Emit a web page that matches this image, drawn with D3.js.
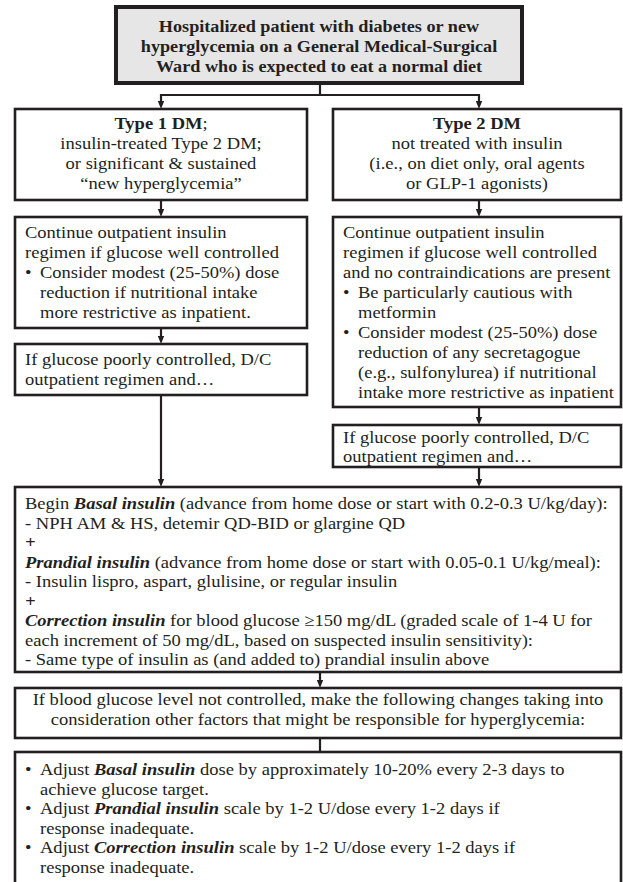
<!DOCTYPE html>
<html>
<head>
<meta charset="utf-8">
<script src="https://cdn.jsdelivr.net/npm/d3@7"></script>
<style>
  html, body { margin: 0; background: #fff; }
</style>
</head>
<body>
<svg id="chart" width="623" height="882"></svg>
<script>
// ---- text content of each box (** = bold, __ = bold italic) ----
const titleLines = [
  "**Hospitalized patient with diabetes or new**",
  "**hyperglycemia on a General Medical-Surgical**",
  "**Ward who is expected to eat a normal diet**"
];
const type1Lines = [
  "**Type 1 DM**;",
  "insulin-treated Type 2 DM;",
  "or significant & sustained",
  "\u201cnew hyperglycemia\u201d"
];
const type2Lines = [
  "**Type 2 DM**",
  "not treated with insulin",
  "(i.e., on diet only, oral agents",
  "or GLP-1 agonists)"
];
const type1Continue = [
  "Continue outpatient insulin",
  "regimen if glucose well controlled",
  "\u2022 Consider modest (25-50%) dose",
  "  reduction if nutritional intake",
  "  more restrictive as inpatient."
];
const type2Continue = [
  "Continue outpatient insulin",
  "regimen if glucose well controlled",
  "and no contraindications are present",
  "\u2022 Be particularly cautious with",
  "  metformin",
  "\u2022 Consider modest (25-50%) dose",
  "  reduction of any secretagogue",
  "  (e.g., sulfonylurea) if nutritional",
  "  intake more restrictive as inpatient"
];
const poorControl = [
  "If glucose poorly controlled, D/C",
  "outpatient regimen and\u2026"
];
const regimenLines = [
  "Begin __Basal insulin__ (advance from home dose or start with 0.2-0.3 U/kg/day):",
  "- NPH AM & HS, detemir QD-BID or glargine QD",
  "__+__",
  "__Prandial insulin__ (advance from home dose or start with 0.05-0.1 U/kg/meal):",
  "- Insulin lispro, aspart, glulisine, or regular insulin",
  "__+__",
  "__Correction insulin__ for blood glucose \u2265150 mg/dL (graded scale of 1-4 U for",
  "each increment of 50 mg/dL, based on suspected insulin sensitivity):",
  "- Same type of insulin as (and added to) prandial insulin above"
];
const notControlled = [
  "If blood glucose level not controlled, make the following changes taking into",
  "consideration other factors that might be responsible for hyperglycemia:"
];
const adjustLines = [
  "\u2022 Adjust __Basal insulin__ dose by approximately 10-20% every 2-3 days to",
  "  achieve glucose target.",
  "\u2022 Adjust __Prandial insulin__ scale by 1-2 U/dose every 1-2 days if",
  "  response inadequate.",
  "\u2022 Adjust __Correction insulin__ scale by 1-2 U/dose every 1-2 days if",
  "  response inadequate."
];

// ---- layout ----
const INK = "#231f20";
const FONT = "'Liberation Serif', 'Times New Roman', serif";
const FS = 17;
const STRETCH = 1.09;   // widen Times-metric glyphs toward the Palatino look
const PAD = 10, INDENT = 15;

const boxes = [
  { lines: titleLines,    x: 116, y: 7,   w: 406, h: 76,  fill: "#e6e6e6", sw: 4, anchor: "middle", base: 32,  lh: 20, stretch: 1.07 },
  { lines: type1Lines,    x: 15,  y: 109, w: 292, h: 91,  anchor: "middle", base: 129, lh: 20 },
  { lines: type2Lines,    x: 333, y: 109, w: 288, h: 91,  anchor: "middle", base: 129, lh: 20 },
  { lines: type1Continue, x: 15,  y: 217, w: 292, h: 111, base: 238, lh: 20 },
  { lines: poorControl,   x: 15,  y: 344, w: 292, h: 51,  base: 365, lh: 20 },
  { lines: type2Continue, x: 333, y: 217, w: 288, h: 190, base: 238, lh: 20 },
  { lines: poorControl,   x: 333, y: 425, w: 288, h: 42,  base: 443, lh: 19 },
  { lines: regimenLines,  x: 15,  y: 487, w: 606, h: 185, base: 509, lh: 19.5 },
  { lines: notControlled, x: 15,  y: 688, w: 606, h: 50,  anchor: "middle", base: 705, lh: 20 },
  { lines: adjustLines,   x: 15,  y: 752, w: 606, h: 170, base: 775, lh: 19.6 }
];

const links = [
  { pts: [[320, 83], [320, 95]] },
  { pts: [[320, 95], [161, 95], [161, 109]], arrow: true },
  { pts: [[320, 95], [479, 95], [479, 109]], arrow: true },
  { pts: [[161, 200], [161, 217]], arrow: true },
  { pts: [[479, 200], [479, 217]], arrow: true },
  { pts: [[161, 328], [161, 344]], arrow: true },
  { pts: [[479, 407], [479, 425]], arrow: true },
  { pts: [[161, 395], [161, 487]], arrow: true },
  { pts: [[479, 467], [479, 487]], arrow: true },
  { pts: [[320, 672], [320, 688]], arrow: true },
  { pts: [[320, 738], [320, 752]] }
];

const svg = d3.select("#chart");

// split a line into styled runs
function runs(s) {
  return s.split(/(\*\*[^*]+\*\*|__[^_]+__)/).filter(t => t.length).map(t => {
    if (t.startsWith("**")) return { t: t.slice(2, -2), weight: "bold", style: "normal" };
    if (t.startsWith("__")) return { t: t.slice(2, -2), weight: "bold", style: "italic" };
    return { t, weight: "normal", style: "normal" };
  });
}

function drawLine(g, str, x, y, anchor, stretch) {
  const txt = g.append("text")
    .attr("transform", `translate(${x},${y}) scale(${stretch},1)`)
    .attr("text-anchor", anchor)
    .attr("font-family", FONT)
    .attr("font-size", FS)
    .attr("fill", INK)
    .style("white-space", "pre");
  txt.selectAll("tspan").data(runs(str)).join("tspan")
    .attr("font-weight", d => d.weight)
    .attr("font-style", d => d.style)
    .text(d => d.t);
}

// connectors first, boxes on top
const lineGen = d3.line();
links.forEach(l => {
  let pts = l.pts.map(p => p.slice());
  if (l.arrow) {
    const end = pts[pts.length - 1];
    pts[pts.length - 1] = [end[0], end[1] - 6];
  }
  svg.append("path")
    .attr("d", lineGen(pts))
    .attr("fill", "none")
    .attr("stroke", INK)
    .attr("stroke-width", 2.2);
  if (l.arrow) {
    const [ex, ey] = l.pts[l.pts.length - 1];
    svg.append("path")
      .attr("d", `M${ex - 3.2},${ey - 8} L${ex + 3.2},${ey - 8} L${ex},${ey} Z`)
      .attr("fill", INK);
  }
});

boxes.forEach(b => {
  const g = svg.append("g");
  const st = b.stretch || STRETCH;
  g.append("rect")
    .attr("x", b.x).attr("y", b.y)
    .attr("width", b.w).attr("height", b.h)
    .attr("fill", b.fill || "#fff")
    .attr("stroke", INK)
    .attr("stroke-width", b.sw || 2.6);
  const anchor = b.anchor || "start";
  b.lines.forEach((ln, i) => {
    const y = b.base + i * b.lh;
    if (anchor === "middle") {
      drawLine(g, ln, b.x + b.w / 2, y, "middle", st);
    } else if (ln.startsWith("\u2022 ")) {
      drawLine(g, "\u2022", b.x + PAD, y, "start", st);
      drawLine(g, ln.slice(2), b.x + PAD + INDENT, y, "start", st);
    } else if (ln.startsWith("  ")) {
      drawLine(g, ln.slice(2), b.x + PAD + INDENT, y, "start", st);
    } else {
      drawLine(g, ln, b.x + PAD, y, "start", st);
    }
  });
});
</script>
</body>
</html>
